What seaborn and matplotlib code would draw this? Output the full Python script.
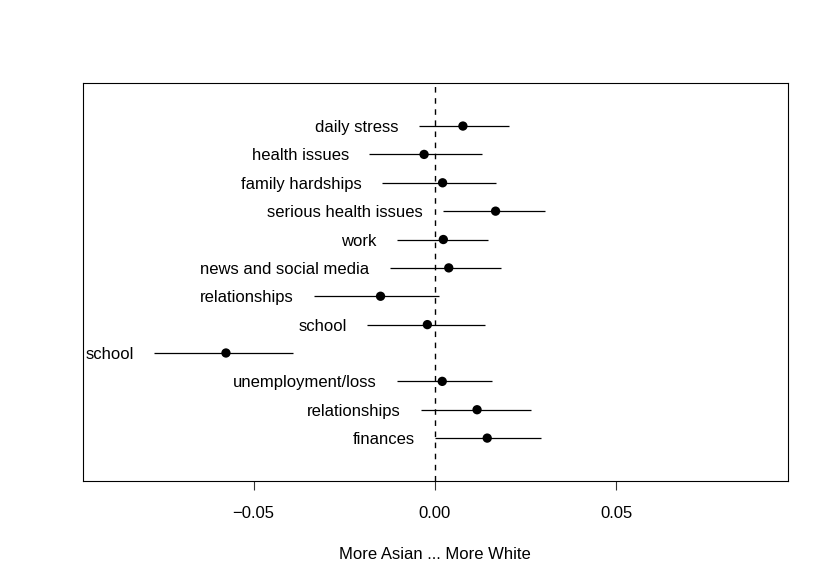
import numpy as np
import pandas as pd
import seaborn as sns
import matplotlib.pyplot as plt

# estimates with lower / upper interval bounds, top row first
labels = ["daily stress", "health issues", "family hardships", "serious health issues",
          "work", "news and social media", "relationships", "school", "school",
          "unemployment/loss", "relationships", "finances"]
estimate = [0.0077, -0.0030, 0.0021, 0.0167, 0.0023, 0.0038, -0.0150, -0.0021, -0.0576,
            0.0020, 0.0116, 0.0144]
lower = [-0.0045, -0.0181, -0.0147, 0.0021, -0.0106, -0.0125, -0.0333, -0.0187, -0.0775,
         -0.0104, -0.0039, 0.0000]
upper = [0.0203, 0.0130, 0.0168, 0.0304, 0.0146, 0.0183, 0.0011, 0.0137, -0.0392,
         0.0158, 0.0266, 0.0291]
xticks = [-0.05, 0.0, 0.05]
xticklabels = ["\u22120.05", "0.00", "0.05"]

df = pd.DataFrame({"label": labels, "est": estimate, "lo": lower, "hi": upper})
df["pos"] = np.arange(len(df), 0, -1)

sns.set_style("white", {"text.color": "black", "axes.labelcolor": "black",
                        "xtick.color": "black", "axes.edgecolor": "black"})
plt.rcParams["font.family"] = ["Liberation Sans", "DejaVu Sans"]

fig = plt.figure(figsize=(8.3, 5.84), dpi=100)
ax = fig.add_axes([0.1, 0.176, 0.849, 0.682])

ax.axvline(0, color="black", linestyle=(0, (4, 4)), linewidth=1.0, zorder=1)
ax.hlines(df["pos"], df["lo"], df["hi"], color="black", linewidth=0.9, zorder=2)
sns.scatterplot(data=df, x="est", y="pos", color="black", s=45, edgecolor="none",
                zorder=3, ax=ax, legend=False)

for _, r in df.iterrows():
    ax.annotate(r["label"], xy=(r["lo"], r["pos"]), xytext=(-14.5, 0), color="black",
                textcoords="offset points", ha="right", va="center_baseline", fontsize=12)

ax.set_xlim(-0.0970, 0.0972)
ax.set_ylim(-0.52, 13.52)
ax.set_xticks(xticks)
ax.set_xticklabels(xticklabels)
ax.set_yticks([])
ax.set_ylabel("")
ax.set_xlabel("More Asian ... More White", fontsize=12, labelpad=19, color="black")
ax.tick_params(axis="x", bottom=True, length=6.5, width=0.8, pad=11, labelsize=12,
               color="#333333", labelcolor="black")
for s in ax.spines.values():
    s.set_visible(True)
    s.set_color("black")
    s.set_linewidth(0.8)

fig.savefig("out.png", dpi=100)
